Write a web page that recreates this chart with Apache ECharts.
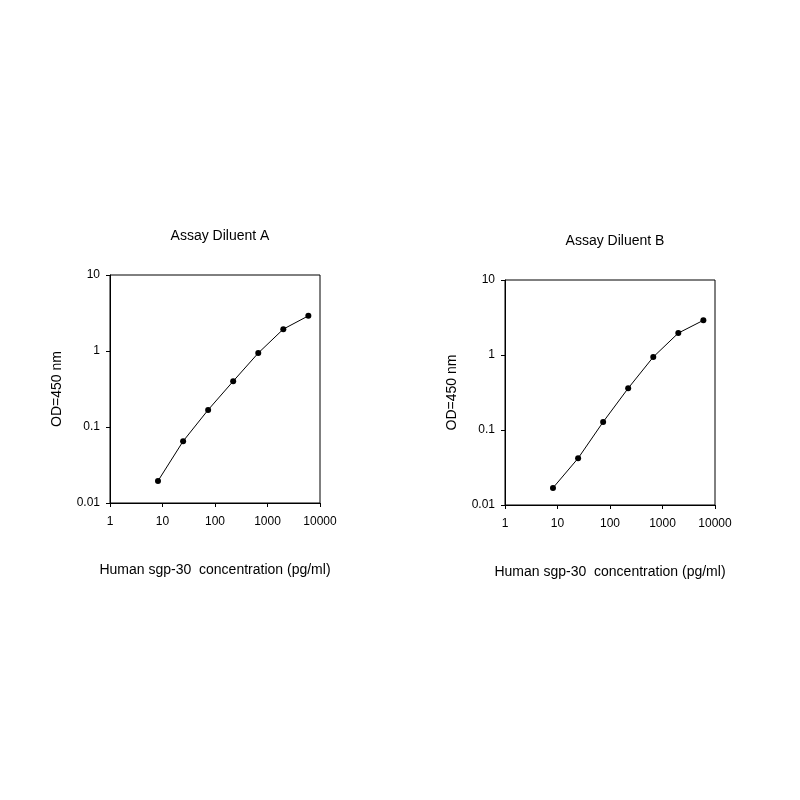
<!DOCTYPE html>
<html><head><meta charset="utf-8">
<script src="https://cdn.jsdelivr.net/npm/echarts@6/dist/echarts.min.js"></script>
<style>html,body{margin:0;background:#fff}#c{width:800px;height:800px}</style>
</head><body><div id="c"></div>
<script>
const concentrations = [8.2, 24.7, 74, 222, 667, 2000, 6000];
const odA = [0.0195, 0.065, 0.168, 0.40, 0.94, 1.94, 2.9];
const odB = [0.0169, 0.042, 0.128, 0.36, 0.94, 1.96, 2.9];
const titles = ['Assay Diluent A', 'Assay Diluent B'];
const xName = 'Human sgp-30  concentration (pg/ml)';
const yName = 'OD=450 nm';

const font = 'Liberation Sans, Arial, sans-serif';
const grids = [
  {left:110, width:210, top:275, height:228, show:true, borderColor:'#000', borderWidth:1},
  {left:505, width:210, top:280, height:225, show:true, borderColor:'#000', borderWidth:1}
];
const fmt = v => String(+v.toPrecision(6));
function xAx(i){return {type:'log', gridIndex:i, min:1, max:10000, logBase:10,
  axisLine:{lineStyle:{color:'#000'}}, axisTick:{length:4,lineStyle:{color:'#000'}},
  splitLine:{show:false}, axisLabel:{color:'#000',fontSize:12,fontFamily:font,margin:13,formatter:fmt},
  name:xName, nameLocation:'middle', nameGap:60, nameTextStyle:{color:'#000',fontSize:14,fontFamily:font}};}
function yAx(i){return {type:'log', gridIndex:i, min:0.01, max:10, logBase:10,
  axisLine:{lineStyle:{color:'#000'}}, axisTick:{length:4,lineStyle:{color:'#000'}},
  splitLine:{show:false}, axisLabel:{color:'#000',fontSize:12,fontFamily:font,margin:10,formatter:fmt},
  name:yName, nameLocation:'middle', nameGap:46, nameTextStyle:{color:'#000',fontSize:14,fontFamily:font}};}
function ser(i,d){return {type:'line', xAxisIndex:i, yAxisIndex:i,
  data:concentrations.map((c,k)=>[c,d[k]]), symbol:'circle', symbolSize:6,
  itemStyle:{color:'#000'}, lineStyle:{color:'#000',width:1}};}
const chart = echarts.init(document.getElementById('c'));
chart.setOption({
  animation:false,
  title:[
    {text:titles[0], left:215, top:224, textAlign:'center', textStyle:{fontSize:14,fontWeight:'normal',color:'#000',fontFamily:font}},
    {text:titles[1], left:610, top:229, textAlign:'center', textStyle:{fontSize:14,fontWeight:'normal',color:'#000',fontFamily:font}}
  ],
  grid:grids,
  xAxis:[xAx(0),xAx(1)],
  yAxis:[yAx(0),yAx(1)],
  series:[ser(0,odA),ser(1,odB)]
});
</script></body></html>
